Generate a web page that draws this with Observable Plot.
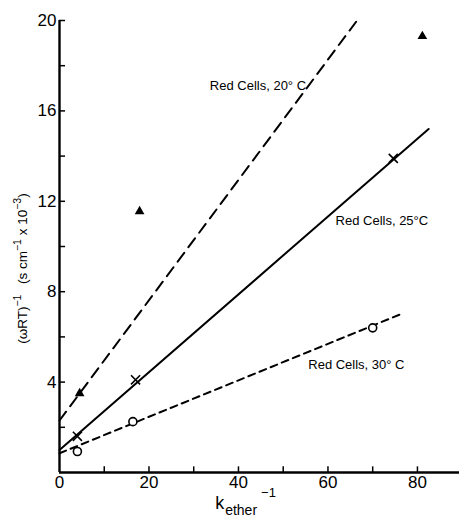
<!DOCTYPE html>
<html><head><meta charset="utf-8">
<script src="https://cdn.jsdelivr.net/npm/d3@7"></script>
<script src="https://cdn.jsdelivr.net/npm/@observablehq/plot@0.6"></script>
<style>
body{margin:0;background:#fff}
#chart svg{font-family:"Liberation Sans Narrow","Liberation Sans",Arial,sans-serif;}
</style>
</head><body><div id="chart"></div>
<script>
// Fitted lines (endpoints)
const series = ["Red Cells, 20° C", "Red Cells, 25°C", "Red Cells, 30° C"];
const lineX0 = [0, 0, 0];
const lineX1 = [66.5, 82.5, 76.2];
const lineY0 = [2.3, 1.0, 0.85];
const lineY1 = [20, 15.2, 7.0];
// Data points
const triX = [4.5, 17.9, 81.1];
const triY = [3.5, 11.55, 19.3];
const crossX = [4, 17, 74.6];
const crossY = [1.6, 4.1, 13.9];
const circX = [4, 16.4, 70];
const circY = [0.93, 2.25, 6.4];
// In-plot labels
const labelX = [33.6, 61.7, 55.6];
const labelY = [17.1, 11.15, 4.78];
// Ticks
const xTickLabels = [0, 20, 40, 60, 80];
const xTickMarks = [10, 20, 30, 40, 50, 60, 70, 80];
const yTickLabels = [4, 8, 12, 16, 20];
const yTickMarks = [2, 4, 6, 8, 10, 12, 14, 16, 18, 20];

const dashes = ["11,7", null, "7,5"];
const lines = series.flatMap((s, i) => [
  {s, i, x: lineX0[i], y: lineY0[i]},
  {s, i, x: lineX1[i], y: lineY1[i]}
]);
const tri = triX.map((x, i) => ({x, y: triY[i]}));
const cross = crossX.map((x, i) => ({x, y: crossY[i]}));
const circ = circX.map((x, i) => ({x, y: circY[i]}));
const labels = series.map((t, i) => ({t, x: labelX[i], y: labelY[i]}));

const plot = Plot.plot({
  width: 459,
  height: 517,
  marginLeft: 59,
  marginRight: 0,
  marginTop: 20,
  marginBottom: 45,
  style: {fontSize: "17px", background: "#fff", color: "#000"},
  x: {domain: [0, 89.4]},
  y: {domain: [0, 20]},
  marks: [
    ...series.map((s, i) => Plot.line(lines.filter(d => d.i === i), {
      x: "x", y: "y", stroke: "#000", strokeWidth: 2, strokeDasharray: dashes[i]
    })),
    Plot.ruleY([0], {stroke: "#000", strokeWidth: 2.4}),
    Plot.ruleX([0], {stroke: "#000", strokeWidth: 2.4}),
    // inward tick marks
    Plot.ruleX(xTickMarks, {y1: 0, y2: 0.25, stroke: "#000", strokeWidth: 1.5}),
    Plot.ruleY(yTickMarks, {x1: 0, x2: 1.35, stroke: "#000", strokeWidth: 1.5}),
    Plot.axisX({ticks: xTickLabels, tickSize: 0, tickPadding: 3, label: null, fontSize: 17}),
    Plot.axisY({ticks: yTickLabels, tickSize: 0, tickPadding: 3, label: null, fontSize: 17}),
    Plot.dot(tri, {x: "x", y: "y", symbol: "triangle", r: 3.6, fill: "#000"}),
    Plot.dot(cross, {x: "x", y: "y", symbol: "times", r: 4.2, stroke: "#000", strokeWidth: 1.6}),
    Plot.dot(circ, {x: "x", y: "y", symbol: "circle", r: 4, stroke: "#000", strokeWidth: 1.6, fill: "#fff"}),
    Plot.text(labels, {x: "x", y: "y", text: "t", textAnchor: "start", fontSize: 13, fill: "#000"})
  ]
});
document.getElementById("chart").appendChild(plot);

// Axis titles with sub/superscripts
const svg = d3.select(plot);
const xs = plot.scale("x"), ys = plot.scale("y");
const xl = svg.append("text").attr("x", xs.apply(34.9)).attr("y", 509)
  .attr("text-anchor", "start").attr("fill", "#000");
xl.append("tspan").attr("font-size", 18).text("k");
xl.append("tspan").attr("font-size", 14).attr("dy", 6).attr("dx", 1).text("ether");
xl.append("tspan").attr("font-size", 13).attr("dy", -18).attr("dx", 4).text("\u22121");

const yl = svg.append("text")
  .attr("transform", `translate(27,${ys.apply(9)}) rotate(-90)`)
  .attr("text-anchor", "middle").attr("fill", "#000").attr("font-size", 13.5);
yl.append("tspan").text("(\u03c9RT)");
yl.append("tspan").attr("font-size", 10.5).attr("dy", -6).text("\u22121");
yl.append("tspan").attr("dy", 6).text("\u2002 (s cm");
yl.append("tspan").attr("font-size", 10.5).attr("dy", -6).text("\u22121");
yl.append("tspan").attr("dy", 6).text(" x 10");
yl.append("tspan").attr("font-size", 10.5).attr("dy", -6).text("\u22123");
yl.append("tspan").attr("dy", 6).text(")");
</script>
</body></html>
